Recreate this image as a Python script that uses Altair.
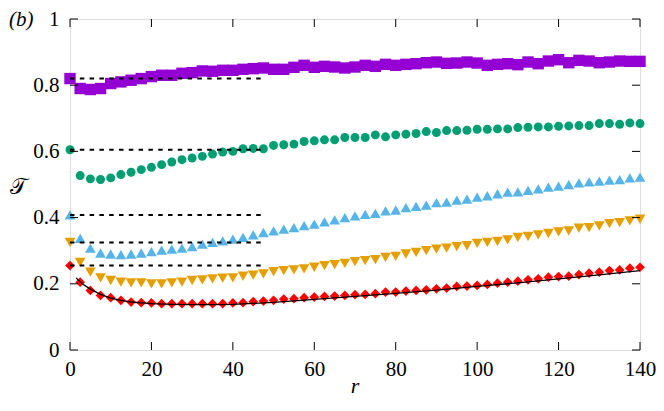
import altair as alt
import pandas as pd

r_vals = [0, 2.5, 5, 7.5, 10, 12.5, 15, 17.5, 20, 22.5, 25, 27.5, 30, 32.5, 35, 37.5,
          40, 42.5, 45, 47.5, 50, 52.5, 55, 57.5, 60, 62.5, 65, 67.5, 70, 72.5, 75,
          77.5, 80, 82.5, 85, 87.5, 90, 92.5, 95, 97.5, 100, 102.5, 105, 107.5, 110,
          112.5, 115, 117.5, 120, 122.5, 125, 127.5, 130, 132.5, 135, 137.5, 140]

purple = [0.820, 0.790, 0.787, 0.790, 0.805, 0.810, 0.815, 0.820, 0.826, 0.830, 0.830,
          0.836, 0.838, 0.843, 0.842, 0.845, 0.845, 0.848, 0.850, 0.852, 0.848, 0.848,
          0.854, 0.860, 0.854, 0.857, 0.855, 0.852, 0.855, 0.860, 0.857, 0.863, 0.860,
          0.863, 0.865, 0.868, 0.870, 0.866, 0.867, 0.870, 0.867, 0.860, 0.863, 0.865,
          0.862, 0.870, 0.865, 0.873, 0.877, 0.868, 0.875, 0.873, 0.868, 0.870, 0.873,
          0.872, 0.872]

green = [0.605, 0.527, 0.517, 0.515, 0.520, 0.530, 0.537, 0.545, 0.552, 0.560, 0.568,
         0.575, 0.580, 0.585, 0.592, 0.598, 0.600, 0.608, 0.609, 0.608, 0.618, 0.620,
         0.622, 0.630, 0.632, 0.635, 0.635, 0.642, 0.642, 0.642, 0.650, 0.644, 0.650,
         0.652, 0.654, 0.660, 0.657, 0.663, 0.663, 0.664, 0.667, 0.667, 0.668, 0.668,
         0.672, 0.673, 0.674, 0.674, 0.676, 0.677, 0.678, 0.678, 0.684, 0.684, 0.682,
         0.686, 0.684]

blue = [0.408, 0.337, 0.308, 0.293, 0.290, 0.288, 0.290, 0.293, 0.297, 0.302, 0.305,
        0.308, 0.312, 0.320, 0.325, 0.330, 0.335, 0.340, 0.348, 0.355, 0.360, 0.365,
        0.370, 0.376, 0.380, 0.387, 0.393, 0.400, 0.405, 0.410, 0.413, 0.420, 0.423,
        0.430, 0.434, 0.438, 0.445, 0.447, 0.453, 0.456, 0.462, 0.466, 0.472, 0.477,
        0.478, 0.482, 0.487, 0.492, 0.495, 0.500, 0.505, 0.508, 0.510, 0.513, 0.515,
        0.520, 0.522]

orange = [0.325, 0.265, 0.235, 0.218, 0.210, 0.205, 0.203, 0.203, 0.200, 0.200, 0.203,
          0.205, 0.210, 0.212, 0.215, 0.217, 0.218, 0.223, 0.226, 0.230, 0.237, 0.240,
          0.242, 0.245, 0.250, 0.255, 0.258, 0.262, 0.267, 0.270, 0.273, 0.280, 0.283,
          0.290, 0.295, 0.300, 0.305, 0.308, 0.312, 0.315, 0.322, 0.325, 0.328, 0.333,
          0.340, 0.343, 0.348, 0.352, 0.357, 0.360, 0.368, 0.370, 0.375, 0.382, 0.385,
          0.390, 0.395]

red = [0.255, 0.205, 0.180, 0.165, 0.158, 0.150, 0.145, 0.143, 0.142, 0.140, 0.140,
       0.140, 0.140, 0.140, 0.140, 0.140, 0.142, 0.143, 0.146, 0.148, 0.150, 0.154,
       0.155, 0.158, 0.160, 0.162, 0.163, 0.165, 0.167, 0.168, 0.170, 0.175, 0.175,
       0.178, 0.180, 0.182, 0.185, 0.187, 0.192, 0.193, 0.195, 0.198, 0.202, 0.205,
       0.208, 0.212, 0.215, 0.220, 0.222, 0.223, 0.228, 0.232, 0.235, 0.240, 0.242,
       0.247, 0.250]

fit_r = [1.5, 3, 5, 7.5, 10, 12.5, 15, 20, 25, 30, 35, 40, 45, 50, 60, 70, 80, 90,
         100, 110, 120, 130, 140]
fit_v = [0.218, 0.200, 0.184, 0.168, 0.157, 0.150, 0.145, 0.140, 0.138, 0.137, 0.137,
         0.138, 0.141, 0.144, 0.153, 0.162, 0.171, 0.181, 0.192, 0.203, 0.215, 0.227,
         0.240]

dash_levels = [0.82, 0.605, 0.408, 0.325, 0.255]
dash_start = 0
dash_end = 48

x_ticks = [0, 20, 40, 60, 80, 100, 120, 140]
y_ticks = [0, 0.2, 0.4, 0.6, 0.8, 1]

W, H = 570, 331
FONT = "Liberation Serif"
TICK = 8

xs = alt.Scale(domain=[0, 140], nice=False, zero=False)
ys = alt.Scale(domain=[0, 1], nice=False, zero=False)

x_axis = alt.Axis(values=x_ticks, tickSize=0, domain=False, grid=False, title=None,
                  labelFont=FONT, labelFontSize=21, labelPadding=8, labelColor="black",
                  labelFlush=False)
y_axis = alt.Axis(values=y_ticks, tickSize=0, domain=False, grid=False, title=None,
                  labelFont=FONT, labelFontSize=21, labelPadding=11, labelColor="black",
                  format="~g", labelFlush=False)


def X(field):
    return alt.X(field, scale=xs, axis=x_axis)


def Y(field):
    return alt.Y(field, scale=ys, axis=y_axis)


series = [
    (purple, "square", "#9400D3", 130),
    (green, "circle", "#009E73", 80),
    (blue, "triangle-up", "#56B4E9", 115),
    (orange, "triangle-down", "#E69F00", 115),
    (red, "diamond", "#FF0000", 95),
]

layers = []
for vals, shape, col, size in series:
    df = pd.DataFrame({"r": r_vals, "v": vals})
    layers.append(
        alt.Chart(df).mark_point(shape=shape, filled=True, size=size, color=col,
                                 opacity=1, strokeWidth=0)
        .encode(x=X("r:Q"), y=Y("v:Q"))
    )

dash_df = pd.DataFrame({"y": dash_levels, "x0": [dash_start] * len(dash_levels),
                        "x1": [dash_end] * len(dash_levels)})
dashes = alt.Chart(dash_df).mark_rule(color="black", strokeWidth=2,
                                      strokeDash=[4.5, 5.3]).encode(
    x=X("x0:Q"), x2="x1:Q", y=Y("y:Q"))

fit_df = pd.DataFrame({"r": fit_r, "v": fit_v})
fit = alt.Chart(fit_df).mark_line(color="black", strokeWidth=1.3).encode(
    x=X("r:Q"), y=Y("v:Q"))

xt = pd.DataFrame({"t": x_ticks})
yt = pd.DataFrame({"t": y_ticks})
tick_bottom = alt.Chart(xt).mark_rule(color="black", strokeWidth=1).encode(
    x=X("t:Q"), y=alt.value(H), y2=alt.value(H - TICK))
tick_top = alt.Chart(xt).mark_rule(color="black", strokeWidth=1).encode(
    x=X("t:Q"), y=alt.value(0), y2=alt.value(TICK))
tick_left = alt.Chart(yt).mark_rule(color="black", strokeWidth=1).encode(
    y=Y("t:Q"), x=alt.value(0), x2=alt.value(TICK))
tick_right = alt.Chart(yt).mark_rule(color="black", strokeWidth=1).encode(
    y=Y("t:Q"), x=alt.value(W), x2=alt.value(W - TICK))

panel_lbl = alt.Chart(pd.DataFrame({"t": ["(b)"]})).mark_text(
    font=FONT, fontSize=21, fontStyle="italic", color="black", align="left",
    baseline="middle").encode(text="t:N", x=alt.value(-61), y=alt.value(1))
x_title = alt.Chart(pd.DataFrame({"t": ["r"]})).mark_text(
    font=FONT, fontSize=22, fontStyle="italic", color="black", align="center",
    baseline="middle").encode(text="t:N", x=alt.value(W / 2), y=alt.value(367))
y_title = alt.Chart(pd.DataFrame({"t": ["𝒯"]})).mark_text(
    font="DejaVu Serif", fontSize=22, color="black", align="center",
    baseline="middle").encode(text="t:N", x=alt.value(-52), y=alt.value(168))

chart = alt.layer(
    *layers, dashes, fit, tick_bottom, tick_top, tick_left, tick_right,
    panel_lbl, x_title, y_title
).properties(
    width=W, height=H,
    autosize=alt.AutoSizeParams(type="none"),
    padding={"left": 62, "top": 11, "right": 16, "bottom": 50},
).configure_view(stroke="black", strokeWidth=1.2).configure_axis(
    labelFont=FONT, labelFontSize=21
).configure(background="white")

chart.save("out.html", embed_options={"renderer": "svg", "actions": False})
